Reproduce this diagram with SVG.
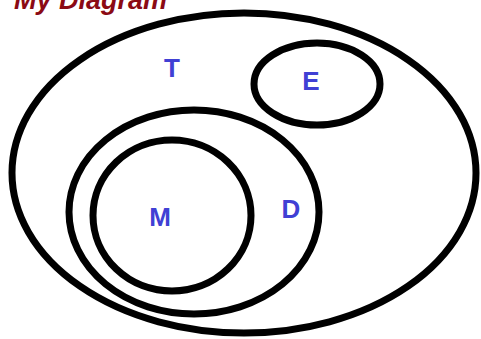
<svg xmlns="http://www.w3.org/2000/svg" width="481" height="339" viewBox="0 0 481 339">
<style>
.set{fill:none;stroke:#000;stroke-width:7}
.lbl{font-family:"Liberation Sans",Arial,sans-serif;font-weight:bold;font-size:26px;fill:#4040d4;text-anchor:middle}
.title{font-family:"Liberation Sans",Arial,sans-serif;font-weight:bold;font-size:27px;fill:#8b0a14;font-style:italic}
</style>
<rect width="481" height="339" fill="#fff"/>
<text class="title" x="167" y="9" text-anchor="end">My Diagram</text>
<g id="T"><ellipse class="set" cx="244" cy="173" rx="232" ry="160"/><text class="lbl" x="172" y="77">T</text></g>
<g id="E"><ellipse class="set" cx="317" cy="84" rx="63" ry="41"/><text class="lbl" x="311" y="90">E</text></g>
<g id="D"><ellipse class="set" cx="194" cy="212" rx="125" ry="102"/><text class="lbl" x="291" y="218">D</text></g>
<g id="M"><ellipse class="set" cx="172" cy="215.5" rx="79" ry="75.5"/><text class="lbl" x="160" y="226">M</text></g>
<g id="connectors"/>
</svg>
